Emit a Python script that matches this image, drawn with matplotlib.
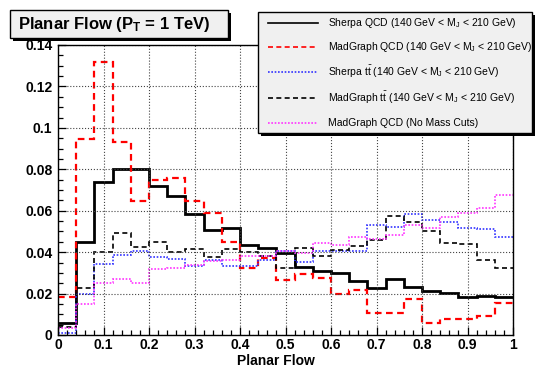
import numpy as np
import matplotlib
matplotlib.use("Agg")
import matplotlib.pyplot as plt
from matplotlib.patches import Rectangle
from matplotlib.lines import Line2D

plt.rcParams['font.family'] = ['Liberation Sans', 'DejaVu Sans']
plt.rcParams['mathtext.fontset'] = 'custom'
plt.rcParams['mathtext.rm'] = 'Liberation Sans'
plt.rcParams['mathtext.it'] = 'Liberation Sans:italic'
plt.rcParams['mathtext.bf'] = 'Liberation Sans:bold'

# ---- data (25 bins from 0 to 1) ----
bin_edges = np.linspace(0, 1, 26)

sherpa_qcd = [0.006, 0.0448, 0.074, 0.080, 0.080, 0.072, 0.0673, 0.0584, 0.0507,
              0.0515, 0.0435, 0.0422, 0.0394, 0.033, 0.0309, 0.0298, 0.0262,
              0.0229, 0.027, 0.0233, 0.0214, 0.0201, 0.0185, 0.019, 0.0185]
madgraph_qcd = [0.0185, 0.0945, 0.1317, 0.093, 0.0647, 0.0748, 0.076, 0.0647, 0.0588,
                0.045, 0.0325, 0.037, 0.0266, 0.0293, 0.0277, 0.0198, 0.0217,
                0.0108, 0.0108, 0.0172, 0.0059, 0.0076, 0.0076, 0.0092, 0.0153]
sherpa_tt = [0.0008, 0.0196, 0.0341, 0.0386, 0.0406, 0.0375, 0.0367, 0.0333, 0.0362,
             0.0333, 0.0333, 0.0362, 0.0406, 0.0351, 0.0406, 0.0406, 0.0406,
             0.0531, 0.052, 0.0584, 0.0555, 0.0547, 0.0515, 0.0512, 0.0475]
madgraph_tt = [0.004, 0.0229, 0.040, 0.0491, 0.0423, 0.0448, 0.040, 0.0414, 0.0375,
               0.0414, 0.040, 0.0383, 0.0325, 0.0419, 0.0383, 0.041, 0.0431,
               0.0459, 0.0575, 0.0547, 0.0504, 0.0443, 0.044, 0.0362, 0.0325]
madgraph_qcd_nocut = [0.0032, 0.0148, 0.0253, 0.027, 0.0253, 0.0317, 0.0322, 0.0338, 0.0357,
                      0.0362, 0.0381, 0.0381, 0.0406, 0.0394, 0.0443, 0.0435, 0.0475,
                      0.0464, 0.0483, 0.0531, 0.0515, 0.0571, 0.0588, 0.0612, 0.0676]

labels = [
    r"Sherpa QCD (140 GeV < M$_\mathregular{J}$ < 210 GeV)",
    r"MadGraph QCD (140 GeV < M$_\mathregular{J}$ < 210 GeV)",
    r"Sherpa t$\mathregular{\bar{t}}$ (140 GeV < M$_\mathregular{J}$ < 210 GeV)",
    r"MadGraph t$\mathregular{\bar{t}}$ (140 GeV < M$_\mathregular{J}$ < 210 GeV)",
    "MadGraph QCD (No Mass Cuts)",
]
title = r"Planar Flow (P$_\mathbf{T}$ = 1 TeV)"
xlabel = "Planar Flow"
xticks = [0, 0.1, 0.2, 0.3, 0.4, 0.5, 0.6, 0.7, 0.8, 0.9, 1.0]
xticklabels = ["0", "0.1", "0.2", "0.3", "0.4", "0.5", "0.6", "0.7", "0.8", "0.9", "1"]
yticks = [0, 0.02, 0.04, 0.06, 0.08, 0.1, 0.12, 0.14]
yticklabels = ["0", "0.02", "0.04", "0.06", "0.08", "0.1", "0.12", "0.14"]

series = [sherpa_qcd, madgraph_qcd, sherpa_tt, madgraph_tt, madgraph_qcd_nocut]
styles = [
    dict(color='black', lw=2.0, ls='-'),
    dict(color='#ff0000', lw=1.6, ls=(0, (3, 2))),
    dict(color='#3333ff', lw=1.2, ls=(0, (1, 1))),
    dict(color='black', lw=1.2, ls=(0, (3, 2))),
    dict(color='#ff33ff', lw=1.2, ls=(0, (1, 1))),
]

W, H = 541, 367
fig = plt.figure(figsize=(W / 100, H / 100), dpi=100)
ax = fig.add_axes([58 / W, 1 - 335 / H, (513 - 58) / W, (335 - 45) / H])

for vals, st in zip(series, styles):
    ax.stairs(vals, bin_edges, baseline=None, **st)

ax.set_xlim(0, 1)
ax.set_ylim(0, 0.14)
ax.set_xticks(xticks)
ax.set_xticklabels(xticklabels, fontweight='bold', fontsize=10)
ax.set_yticks(yticks)
ax.set_yticklabels(yticklabels, fontweight='bold', fontsize=10)
ax.set_xticks(np.arange(0, 1.0001, 0.02), minor=True)
ax.set_yticks(np.arange(0, 0.14001, 0.005), minor=True)
ax.tick_params(which='both', direction='in', top=False, right=False, width=0.9)
ax.tick_params(which='major', length=6)
ax.tick_params(which='minor', length=3.5)
ax.tick_params(axis='x', pad=2)
ax.tick_params(axis='y', pad=4)
ax.grid(True, which='major', ls=':', color='#444444', lw=0.8)
for sp in ax.spines.values():
    sp.set_linewidth(1.0)

fig.text(276 / W, 1 - 361 / H, xlabel, fontweight='bold', fontsize=10,
         ha='center', va='center')

def box(x0, y0, x1, y1, sh=3):
    fig.patches.append(Rectangle((x0 / W + sh / W, 1 - (y1 + sh) / H), (x1 - x0) / W, (y1 - y0) / H,
                                 transform=fig.transFigure, facecolor='black', edgecolor='none', zorder=5))
    fig.patches.append(Rectangle((x0 / W, 1 - y1 / H), (x1 - x0) / W, (y1 - y0) / H,
                                 transform=fig.transFigure, facecolor='#f0f0f0', edgecolor='black',
                                 lw=1.0, zorder=6))

box(10, 10, 228, 38)
fig.text(114 / W, 1 - 24 / H, title, fontweight='bold', fontsize=12,
         ha='center', va='center', zorder=7)

box(258, 12, 532, 133)
rows = [23, 47, 72, 98, 123]
for y, lab, st in zip(rows, labels, styles):
    fig.lines.append(Line2D([268 / W, 318 / W], [1 - y / H, 1 - y / H], transform=fig.transFigure,
                            color=st['color'], lw=min(st['lw'], 1.2), ls=st['ls'], zorder=8))
    fig.text(328 / W, 1 - y / H, lab, fontsize=7.5, ha='left', va='center', zorder=8)

fig.savefig("out.png", dpi=100)
